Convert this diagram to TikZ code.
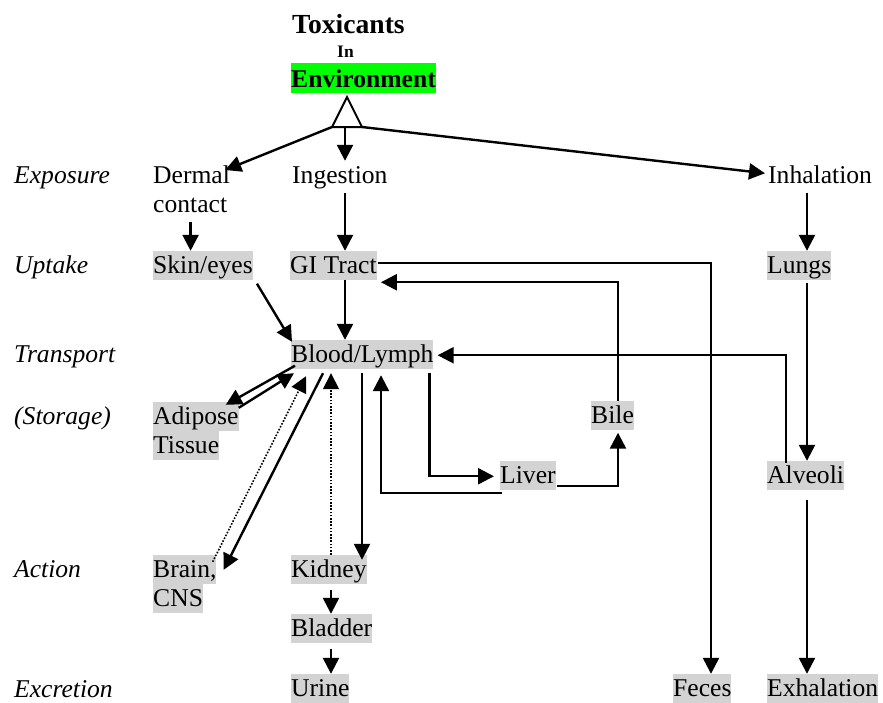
\documentclass[tikz,border=0pt]{standalone}
\usepackage{fontspec}
\setmainfont{Liberation Serif}
\usetikzlibrary{arrows.meta,calc}
\definecolor{hlgray}{RGB}{211,211,211}
\definecolor{envgreen}{RGB}{0,255,0}
\newcommand\myfz{\fontsize{25.6pt}{29pt}\selectfont}
\begin{document}
\begin{tikzpicture}[x=1pt,y=-1pt,
 lbl/.style={inner sep=0pt,text height=22pt,text depth=6.5pt,anchor=base west,font=\myfz},
 hl/.style={lbl,fill=hlgray},
 side/.style={lbl,font=\myfz\itshape},
 conn/.style={line width=2.4pt,-{Triangle[length=16pt,width=16pt]}},
 dots/.style={line width=1.6pt,dash pattern=on 1.6pt off 1.6pt,-{Triangle[length=16pt,width=16pt]}}]
\useasboundingbox (0,0) rectangle (883,702);

% title
\node[inner sep=0pt,anchor=base west,font=\fontsize{27.6pt}{30pt}\selectfont\bfseries] (tox) at (292,33) {Toxicants};
\node[inner sep=0pt,anchor=base west,font=\fontsize{17.5pt}{20pt}\selectfont\bfseries] (in) at (337,57) {In};
\node[inner sep=0pt,text height=24pt,text depth=6pt,anchor=base west,fill=envgreen,font=\myfz\bfseries] (env) at (291,87) {Environment};

% triangle
\coordinate (tl) at (332,127);
\coordinate (tr) at (362,127);
\coordinate (t) at (345,127);
\coordinate (ta) at (347,97);
\draw[line width=2pt,fill=white,line join=miter] (tl) -- (ta) -- (tr) -- cycle;

% side labels
\node[side] (l1) at (14,183) {Exposure};
\node[side] (l2) at (14,273) {Uptake};
\node[side] (l3) at (14,362) {Transport};
\node[side] (l4) at (14,424) {(Storage)};
\node[side] (l5) at (14,577) {Action};
\node[side] (l6) at (14,697) {Excretion};

% nodes
\node[inner sep=0pt,anchor=north west,align=left,font=\myfz] (dermal) at (153,165.5) {Dermal\\contact};
\node[lbl] (ingest) at (292,183) {Ingestion};
\node[lbl] (inhal) at (768,183) {Inhalation};
\node[hl] (skin) at (153,273) {Skin/eyes};
\node[hl] (gi) at (290,273) {GI Tract};
\node[hl] (lungs) at (767,273) {Lungs};
\node[hl] (blood) at (291,362) {Blood/Lymph};
\node[hl] (adip) at (153,424) {Adipose};
\node[hl] (tiss) at (153,453) {Tissue};
\node[hl] (bile) at (591,423) {Bile};
\node[hl] (liver) at (500,483) {Liver};
\node[hl] (alv) at (767,483) {Alveoli};
\node[hl] (brain) at (153,577) {Brain,};
\node[hl] (cns) at (153,606) {CNS};
\node[hl] (kidney) at (291,577) {Kidney};
\node[hl] (bladder) at (291,636) {Bladder};
\node[hl] (urine) at (291,696) {Urine};
\node[hl] (feces) at (673,696) {Feces};
\node[hl] (exh) at (767,696) {Exhalation};

% columns
\coordinate (rc) at (807,0);
\coordinate (fc) at (711,0);
\coordinate (bc) at (618,0);
\coordinate (ac) at (786,0);
\coordinate (kc) at (362,0);
\coordinate (dc) at (331,0);

% exposure
\draw[conn] (tl) -- ($(dermal.north east)+(-5,4.5)$);
\draw[conn] (t) -- (t |- ingest.north);
\draw[conn] (tr) -- ($(inhal.west)+(-3,-2)$);

% uptake
\draw[conn] ($(dermal.south)+(-1,9)$) -- ($(dermal.south |- skin.north)+(-1,0)$);
\draw[conn] ($(ingest.south -| t)+(0,3)$) -- (gi.north -| t);
\draw[conn] ($(inhal.south -| rc)+(0,3)$) -- (lungs.north -| rc);

% transport
\draw[conn] ($(skin.south east)+(4,4)$) -- ($(blood.north west)+(1,2)$);
\draw[conn] (gi.south -| t) -- (blood.north -| t);
\draw[conn] ($(gi.east)+(1,-2)$) -| (feces.north -| fc);
\draw[conn] (bile.north -| bc) |- ($(gi.east)+(4,17)$);
\draw[conn] ($(lungs.south -| rc)+(0,3)$) -- (alv.north -| rc);
\draw[conn] ($(alv.north -| ac)+(0,2)$) |- ($(blood.east)+(4,1)$);
\draw[conn] ($(alv.south -| rc)+(0,10)$) -- (exh.north -| rc);

% liver / bile
\draw[conn] ($(blood.south east)+(-4,4)$) |- ($(liver.west)+(-6,1)$);
\draw[conn] ($(liver.south west)+(2,3.5)$) -| ($(blood.south west)+(90,6.5)$);
\draw[conn] ($(liver.east)+(1,11)$) -| ($(bile.south -| bc)+(0,3)$);

% kidney
\draw[conn] ($(blood.south -| kc)+(0,4)$) -- ($(kidney.north -| kc)+(0,5)$);
\draw[dots] (kidney.north -| dc) -- ($(blood.south -| dc)+(0,4.5)$);
\draw[conn] ($(kidney.south -| dc)+(0,6)$) -- (bladder.north -| dc);
\draw[conn] ($(bladder.south -| dc)+(0,6)$) -- (urine.north -| dc);

% storage
\draw[conn] ($(blood.south west)+(4,-3)$) -- ($(adip.north east)+(-13,3)$);
\draw[conn] ($(adip.north east)+(0,6)$) -- ($(blood.south west)+(3,4.5)$);

% brain
\draw[dots] ($(brain.north east)+(-4,7)$) -- ($(blood.south west)+(15,7.5)$);
\draw[conn] ($(blood.south west)+(32,4.5)$) -- ($(brain.north east)+(7,15)$);
\end{tikzpicture}
\end{document}
